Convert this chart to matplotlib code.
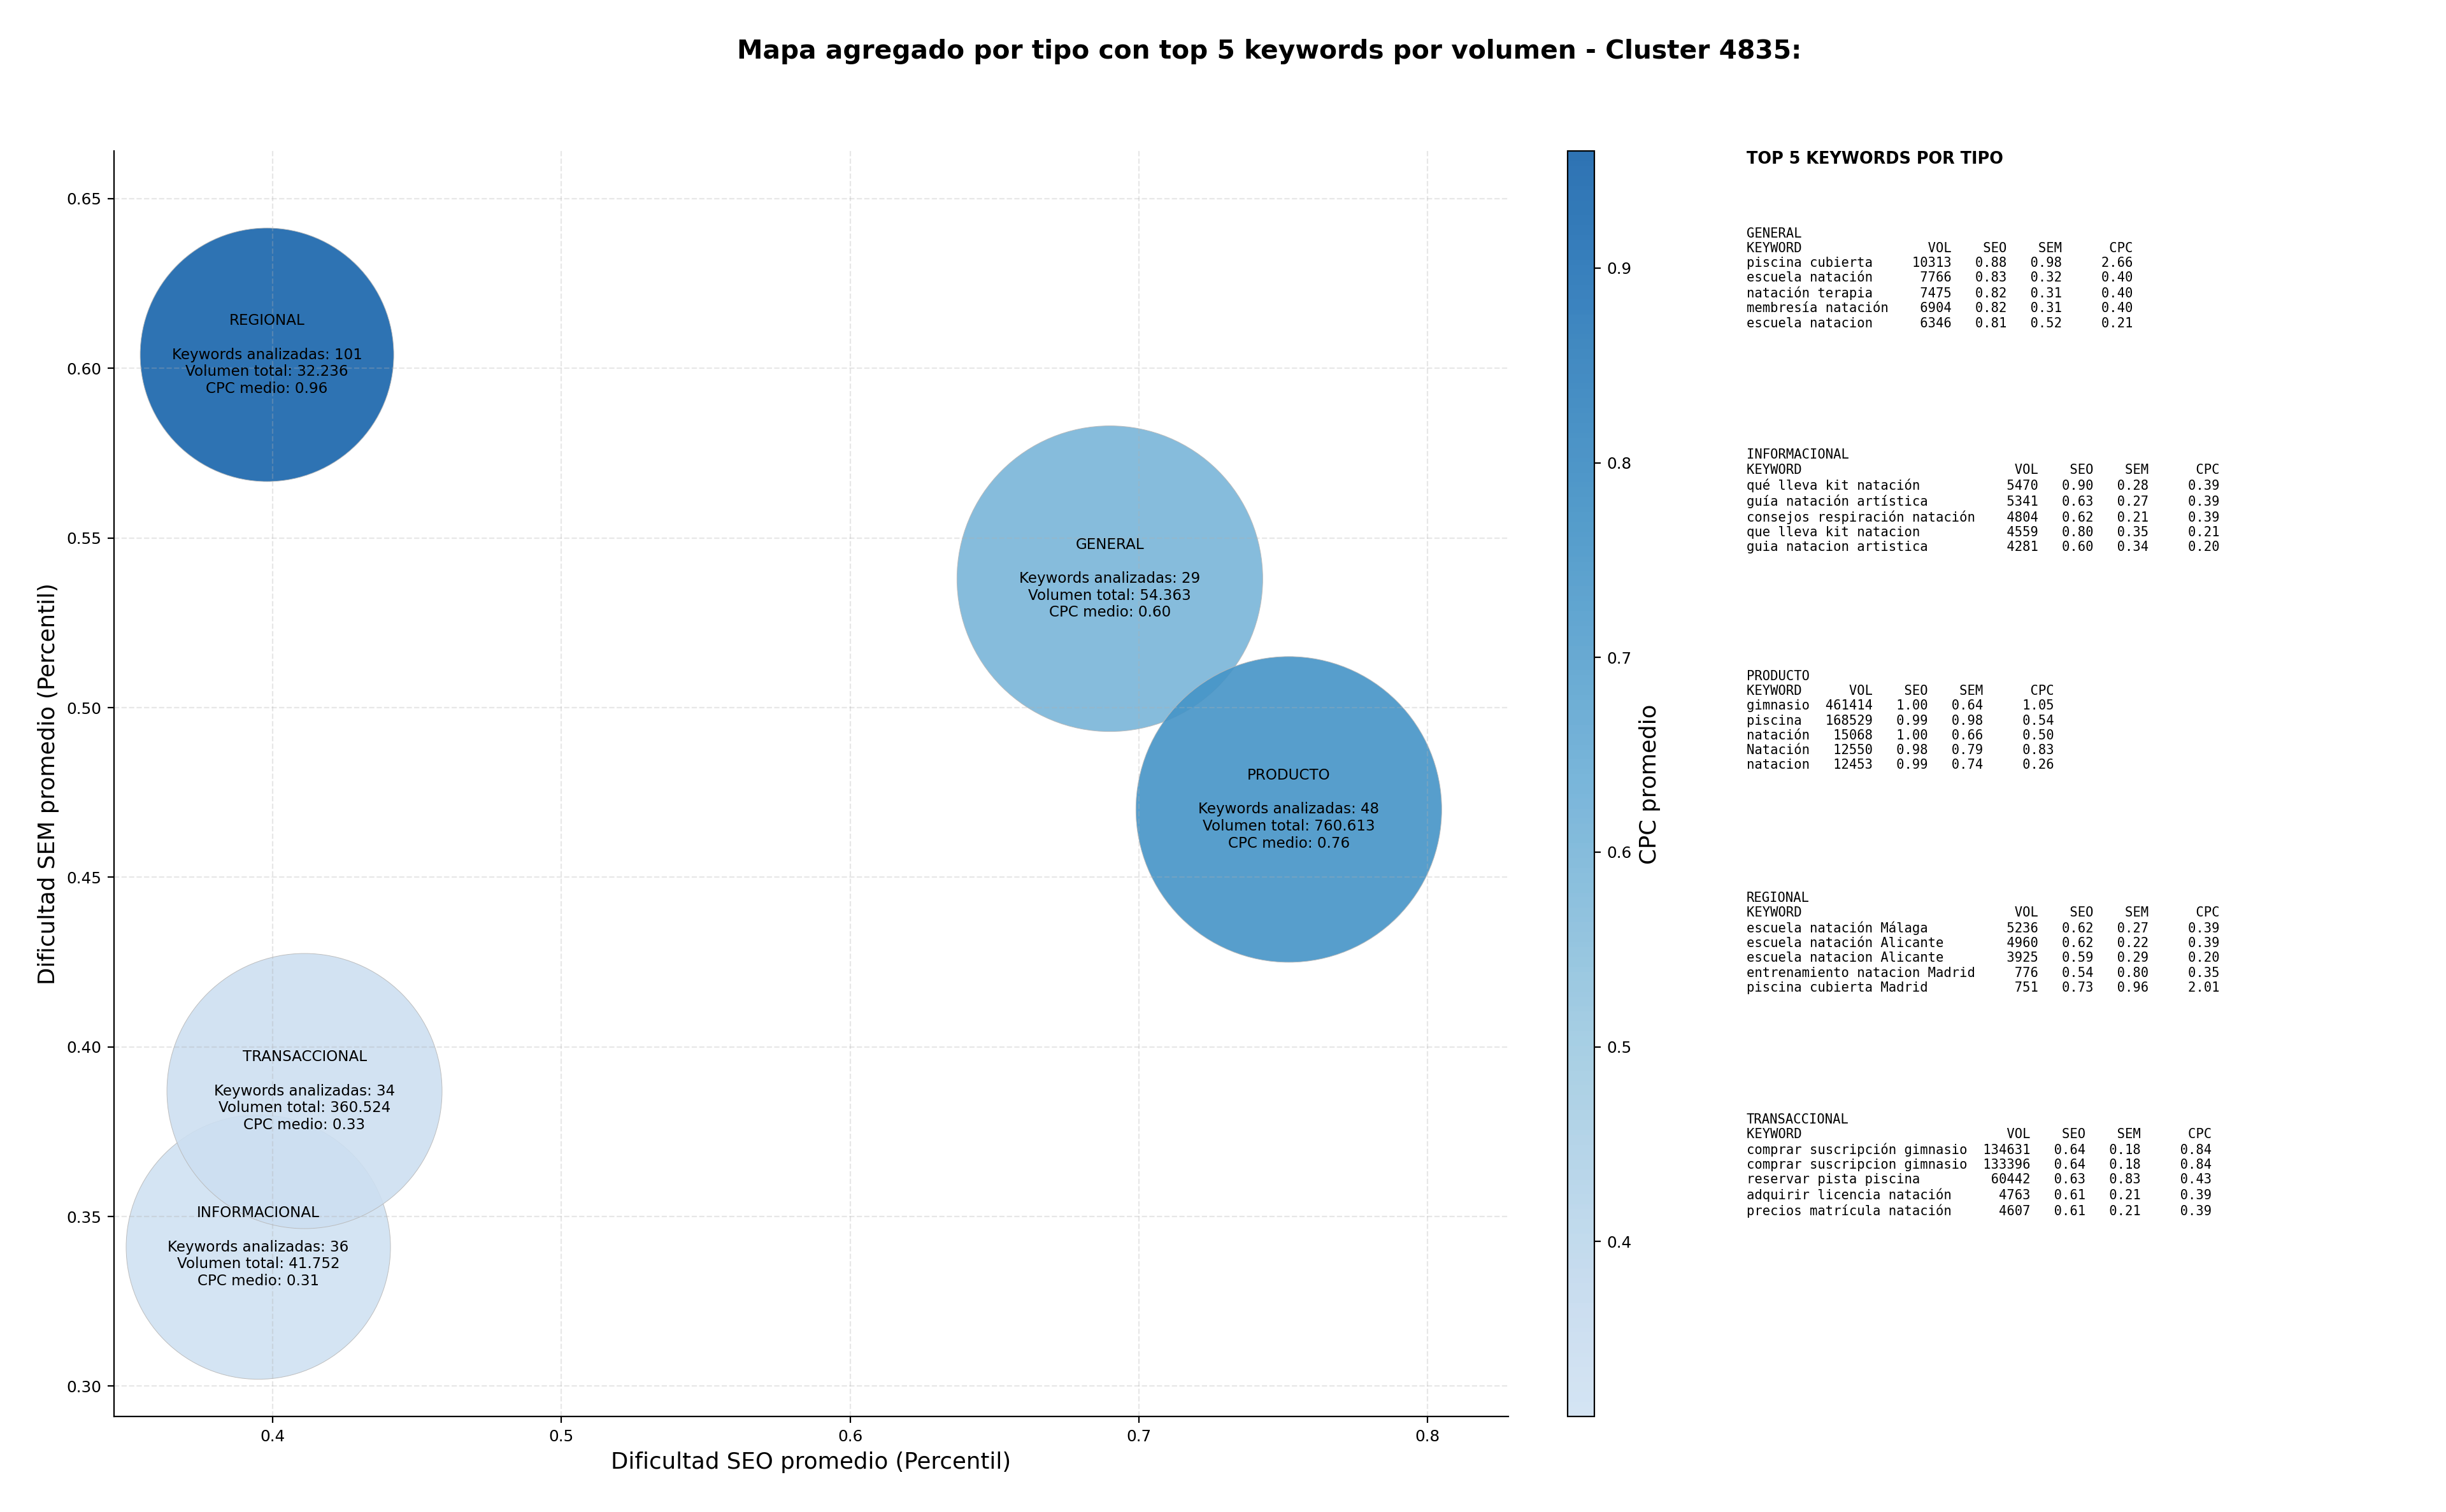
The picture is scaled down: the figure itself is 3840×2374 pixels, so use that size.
import matplotlib
matplotlib.use("Agg")
import matplotlib.pyplot as plt
import numpy as np
from matplotlib.colors import ListedColormap, Normalize

# datos agregados por tipo
tipos = ["GENERAL", "INFORMACIONAL", "PRODUCTO", "REGIONAL", "TRANSACCIONAL"]
seo_medio = [0.690, 0.395, 0.752, 0.398, 0.411]
sem_medio = [0.538, 0.341, 0.470, 0.604, 0.387]
n_keywords = [29, 36, 48, 101, 34]
volumen_total = [54363, 41752, 760613, 32236, 360524]
cpc_medio = [0.60, 0.31, 0.76, 0.96, 0.33]
tamano_burbuja = [29860, 22320, 29860, 20535, 24180]  # area estimada (pt^2)

# top 5 keywords por tipo: (keyword, vol, seo, sem, cpc)
top_general = [
    ("piscina cubierta", 10313, 0.88, 0.98, 2.66),
    ("escuela natación", 7766, 0.83, 0.32, 0.40),
    ("natación terapia", 7475, 0.82, 0.31, 0.40),
    ("membresía natación", 6904, 0.82, 0.31, 0.40),
    ("escuela natacion", 6346, 0.81, 0.52, 0.21),
]
top_informacional = [
    ("qué lleva kit natación", 5470, 0.90, 0.28, 0.39),
    ("guía natación artística", 5341, 0.63, 0.27, 0.39),
    ("consejos respiración natación", 4804, 0.62, 0.21, 0.39),
    ("que lleva kit natacion", 4559, 0.80, 0.35, 0.21),
    ("guia natacion artistica", 4281, 0.60, 0.34, 0.20),
]
top_producto = [
    ("gimnasio", 461414, 1.00, 0.64, 1.05),
    ("piscina", 168529, 0.99, 0.98, 0.54),
    ("natación", 15068, 1.00, 0.66, 0.50),
    ("Natación", 12550, 0.98, 0.79, 0.83),
    ("natacion", 12453, 0.99, 0.74, 0.26),
]
top_regional = [
    ("escuela natación Málaga", 5236, 0.62, 0.27, 0.39),
    ("escuela natación Alicante", 4960, 0.62, 0.22, 0.39),
    ("escuela natacion Alicante", 3925, 0.59, 0.29, 0.20),
    ("entrenamiento natacion Madrid", 776, 0.54, 0.80, 0.35),
    ("piscina cubierta Madrid", 751, 0.73, 0.96, 2.01),
]
top_transaccional = [
    ("comprar suscripción gimnasio", 134631, 0.64, 0.18, 0.84),
    ("comprar suscripcion gimnasio", 133396, 0.64, 0.18, 0.84),
    ("reservar pista piscina", 60442, 0.63, 0.83, 0.43),
    ("adquirir licencia natación", 4763, 0.61, 0.21, 0.39),
    ("precios matrícula natación", 4607, 0.61, 0.21, 0.39),
]
tops = [top_general, top_informacional, top_producto, top_regional, top_transaccional]


def fmt_miles(v):
    return f"{v:,}".replace(",", ".")


def tabla_texto(tipo, filas):
    ancho = max(len(f[0]) for f in filas)
    lineas = [tipo, f"{'KEYWORD':<{ancho}}{'VOL':>8}{'SEO':>7}{'SEM':>7}{'CPC':>9}"]
    for kw, vol, seo, sem, cpc in filas:
        lineas.append(f"{kw:<{ancho}}{vol:>8}{seo:>7.2f}{sem:>7.2f}{cpc:>9.2f}")
    return "\n".join(lineas)


cmap = ListedColormap(plt.cm.Blues(np.linspace(0.2, 0.8, 256)))
norm = Normalize(vmin=min(cpc_medio), vmax=max(cpc_medio))

fig = plt.figure(figsize=(19.2, 11.87), dpi=200)
ax = fig.add_axes([0.0466, 0.063, 0.570, 0.837])
cax = fig.add_axes([0.6409, 0.063, 0.0109, 0.837])
ax_txt = fig.add_axes([0.714, 0.063, 0.28, 0.837])
ax_txt.axis("off")

sc = ax.scatter(seo_medio, sem_medio, s=tamano_burbuja, c=cpc_medio, cmap=cmap, norm=norm,
                alpha=0.9, edgecolors="#b8b8b8", linewidths=0.35)

for i, tipo in enumerate(tipos):
    etiqueta = (f"{tipo}\n\nKeywords analizadas: {n_keywords[i]}\n"
                f"Volumen total: {fmt_miles(volumen_total[i])}\nCPC medio: {cpc_medio[i]:.2f}")
    ax.text(seo_medio[i], sem_medio[i], etiqueta, ha="center", va="center",
            multialignment="center", fontsize=8.3)

ax.set_xlim(0.345, 0.828)
ax.set_ylim(0.291, 0.664)
ax.set_xticks([0.4, 0.5, 0.6, 0.7, 0.8])
ax.set_yticks([0.30, 0.35, 0.40, 0.45, 0.50, 0.55, 0.60, 0.65])
ax.tick_params(labelsize=8.9)
ax.grid(True, linestyle="--", alpha=0.3)
ax.spines["top"].set_visible(False)
ax.spines["right"].set_visible(False)
ax.set_xlabel("Dificultad SEO promedio (Percentil)", fontsize=12.8)
ax.set_ylabel("Dificultad SEM promedio (Percentil)", fontsize=12.8)

cb = fig.colorbar(sc, cax=cax)
cb.set_ticks([0.4, 0.5, 0.6, 0.7, 0.8, 0.9])
cb.ax.tick_params(labelsize=8.9)
cb.set_label("CPC promedio", fontsize=12.8)

fig.text(0.519, 0.966, "Mapa agregado por tipo con top 5 keywords por volumen - Cluster 4835:",
         ha="center", va="center", fontsize=14.7, fontweight="bold")

ax_txt.text(0, 1.0, "TOP 5 KEYWORDS POR TIPO", transform=ax_txt.transAxes,
            ha="left", va="top", fontsize=9.2, fontweight="bold")
for i, tipo in enumerate(tipos):
    ax_txt.text(0, 0.94 - i * 0.175, tabla_texto(tipo, tops[i]), transform=ax_txt.transAxes,
                ha="left", va="top", family="DejaVu Sans Mono", fontsize=7.4)

fig.savefig("out.png", dpi=200)
